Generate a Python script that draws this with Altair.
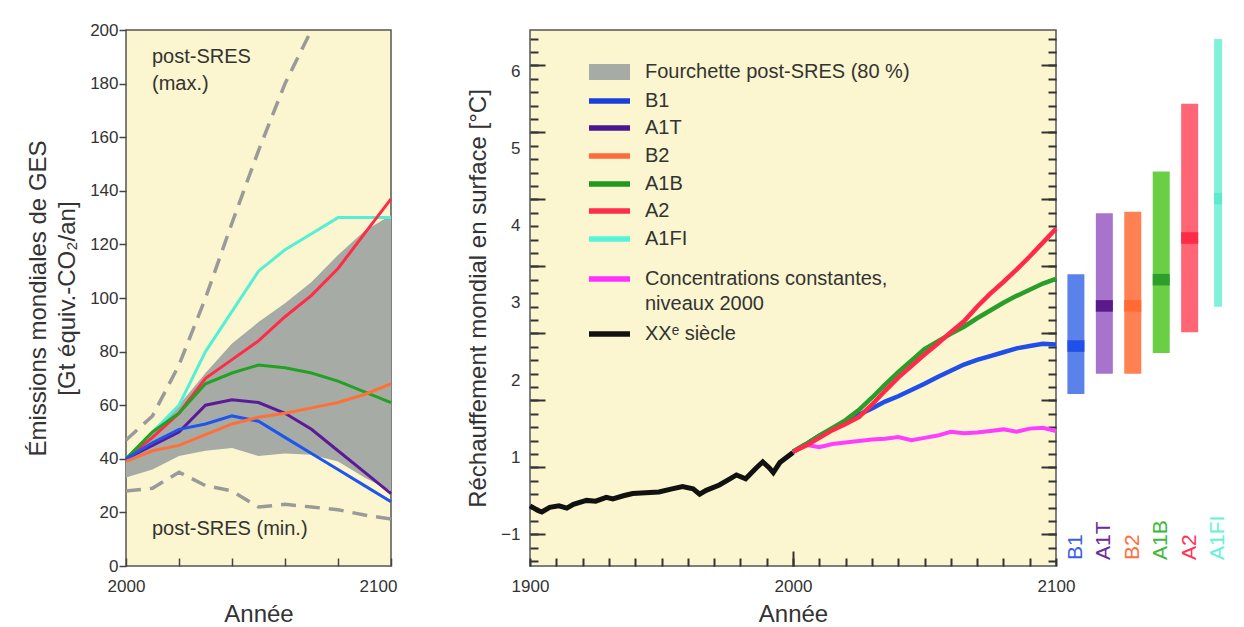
import altair as alt
import pandas as pd

FONT = "Liberation Sans"
TXT = "#333333"
BG = "#FBF6CF"

# ---------------- left panel: emissions (Gt CO2-eq / yr) ----------------
years_em = [2000, 2010, 2020, 2030, 2040, 2050, 2060, 2070, 2080, 2090, 2100]
band_low = [33, 36, 41, 43, 44, 41, 42, 41.5, 39, 33, 28]
band_high = [40, 50, 60, 72, 83, 91, 98, 106, 116, 125, 131]
sres_max = [47, 56, 75, 100, 128, 155, 180, 200, 222, 245, 268]
sres_min = [28, 29, 35, 30, 28, 22, 23, 22, 21, 19, 17.5]
em_series = {
    "A1FI": [40, 50, 60, 80, 95, 110, 118, 124, 130, 130, 130],
    "A2": [40, 48, 57, 70, 77, 84, 93, 101, 111, 124, 137],
    "A1B": [40, 50, 57, 68, 72, 75, 74, 72, 69, 65, 61],
    "A1T": [40, 45, 50, 60, 62, 61, 57, 51, 43, 35, 27],
    "B1": [40, 46, 51, 53, 56, 54, 48, 42, 36, 30, 24],
    "B2": [39, 43, 45, 49, 53, 55.5, 57, 59, 61, 64, 68],
}
em_colors = {"A1FI": "#55EFD6", "A2": "#FF2B47", "A1B": "#24A024",
             "A1T": "#5B1A9A", "B1": "#1E55EE", "B2": "#FF7038"}

# ---------------- right panel: warming ----------------
yr_hist = [1900, 1903, 1904.5, 1907.5, 1911, 1914, 1916.5, 1921.5, 1925, 1929,
           1931.5, 1935.5, 1939, 1944, 1949, 1954, 1958, 1962, 1964.5, 1967,
           1972, 1976, 1978.5, 1982, 1986, 1988.5, 1991, 1992.5, 1995, 2000]
t_hist = [0.37, 0.31, 0.29, 0.35, 0.37, 0.34, 0.39, 0.44, 0.43, 0.48,
          0.46, 0.50, 0.53, 0.54, 0.55, 0.59, 0.62, 0.59, 0.52, 0.57,
          0.64, 0.72, 0.77, 0.72, 0.86, 0.94, 0.86, 0.80, 0.93, 1.06]
yr_fut = [2000, 2005, 2010, 2015, 2020, 2025, 2030, 2035, 2040, 2045, 2050,
          2055, 2060, 2065, 2070, 2075, 2080, 2085, 2090, 2095, 2100]
t_A2 = [1.07, 1.15, 1.25, 1.35, 1.43, 1.52, 1.68, 1.86, 2.03, 2.18, 2.33,
        2.47, 2.62, 2.76, 2.95, 3.12, 3.27, 3.43, 3.60, 3.78, 3.96]
t_A1B = [1.07, 1.17, 1.28, 1.38, 1.48, 1.61, 1.77, 1.94, 2.10, 2.25, 2.40,
         2.50, 2.60, 2.69, 2.80, 2.90, 3.00, 3.09, 3.17, 3.25, 3.31]
t_B1 = [1.07, 1.17, 1.28, 1.37, 1.46, 1.55, 1.63, 1.72, 1.79, 1.87, 1.95,
        2.04, 2.12, 2.20, 2.26, 2.31, 2.36, 2.41, 2.44, 2.47, 2.46]
t_const = [1.07, 1.16, 1.13, 1.17, 1.19, 1.21, 1.23, 1.24, 1.26, 1.22, 1.25,
           1.28, 1.33, 1.31, 1.32, 1.34, 1.36, 1.33, 1.37, 1.38, 1.34]

legend_labels = ["B1", "A1T", "B2", "A1B", "A2", "A1FI",
                 "Concentrations constantes,", "niveaux 2000", "XXᵉ siècle"]
legend_colors = ["#1A3FD8", "#4B1590", "#FF6A3A", "#1E9A1E", "#FF2D4D", "#55F5D8",
                 "#FF30FF", None, "#111111"]
band_label = "Fourchette post-SRES (80 %)"

# ---------------- bars at 2100 ----------------
scen = ["B1", "A1T", "B2", "A1B", "A2", "A1FI"]
bar_low = [1.82, 2.08, 2.08, 2.35, 2.62, 2.95]
bar_high = [3.37, 4.16, 4.18, 4.70, 5.58, 6.42]
bar_med = [2.44, 2.96, 2.96, 3.30, 3.84, 4.35]
bar_light = ["#5A82EA", "#A873CC", "#FF8052", "#6ACF44", "#FF6575", "#80F2DA"]
bar_dark = ["#1F50E8", "#5A1A8A", "#FF6A35", "#2C9E2C", "#FF2A48", "#5FEAD0"]
bar_text = ["#3A5FE5", "#6A2AA0", "#FF6E40", "#3CB83C", "#FF3355", "#66F2D6"]

# ======================= LEFT CHART =======================
LW, LH = 265, 536
em_df = pd.DataFrame({"year": years_em, "low": band_low, "high": band_high,
                      "max": sres_max, "min": sres_min})
em_long = pd.DataFrame([
    {"scenario": s, "year": y, "value": v}
    for s, vals in em_series.items() for y, v in zip(years_em, vals)
])
em_long["order"] = em_long["scenario"].map({s: i for i, s in enumerate(em_series)})

xL = alt.X("year:Q", scale=alt.Scale(domain=[2000, 2100], nice=False, zero=False),
           axis=alt.Axis(orient="bottom", values=list(range(2000, 2101, 10)), format="d",
                         labelExpr="datum.value % 100 == 0 ? datum.label : ''",
                         labelFlush=False,
                         labelOffset={"condition": {"test": "datum.value == 2100", "value": -13},
                                      "value": 0},
                         offset=-8, tickSize=8, domain=False, grid=False,
                         labelPadding=12, tickColor="#444", tickWidth=1.5,
                         title="Année", titlePadding=8))
yscaleL = alt.Scale(domain=[0, 200], nice=False, zero=True)

band = alt.Chart(em_df).mark_area(color="#A6ACA5").encode(
    x=xL,
    y=alt.Y("low:Q", scale=yscaleL,
            axis=alt.Axis(values=list(range(0, 201, 20)), tickSize=7, labelPadding=1,
                          domain=False, grid=False, tickColor="#444", tickWidth=1.5,
                          title=["Émissions mondiales de GES", "[Gt équiv.-CO₂/an]"],
                          titlePadding=10, titleLineHeight=29)),
    y2="high:Q")
dmax = alt.Chart(em_df).mark_line(color="#9A9A9A", strokeDash=[15, 9], strokeWidth=3.5,
                                  clip=True).encode(x="year:Q", y=alt.Y("max:Q", scale=yscaleL))
dmin = alt.Chart(em_df).mark_line(color="#9A9A9A", strokeDash=[15, 9], strokeWidth=3.5,
                                  clip=True).encode(x="year:Q", y=alt.Y("min:Q", scale=yscaleL))
lines_em = alt.Chart(em_long).mark_line(strokeWidth=3).encode(
    x="year:Q", y=alt.Y("value:Q", scale=yscaleL),
    color=alt.Color("scenario:N", scale=alt.Scale(domain=list(em_series),
                                                  range=[em_colors[s] for s in em_series]),
                    legend=None),
    order="order:Q")
ann_max = alt.Chart().mark_text(align="left", baseline="alphabetic", font=FONT,
                                fontSize=20, color=TXT, lineHeight=27).encode(
    x=alt.value(26), y=alt.value(33), text=alt.value(["post-SRES", "(max.)"]))
ann_min = alt.Chart().mark_text(align="left", baseline="alphabetic", font=FONT,
                                fontSize=20, color=TXT).encode(
    x=alt.value(26), y=alt.value(505), text=alt.value("post-SRES (min.)"))

left = alt.layer(band, dmax, dmin, lines_em, ann_max, ann_min).properties(
    width=LW, height=LH,
    view=alt.ViewBackground(fill=BG, stroke="#555555", strokeWidth=1.5))

# ======================= RIGHT CHART =======================
RW, RH = 526, 536
YDOM = [-0.41, 6.535]
XDOM = [1900, 2100]
short_ticks = [round(k * 0.1736, 4) for k in range(-2, 38)]
long_ticks = [round(k * 0.868, 4) for k in range(0, 8)]


def xsc():
    return alt.Scale(domain=XDOM, nice=False, zero=False)


def ysc():
    return alt.Scale(domain=YDOM, nice=False, zero=False)


def tick_axis(orient, vals, size):
    return alt.Axis(orient=orient, values=vals, labels=False, domain=False, grid=False,
                    tickSize=size, offset=-size, tickColor="#333", tickWidth=2, title=None)


xR = alt.X("year:Q", scale=xsc(),
           axis=alt.Axis(orient="bottom", values=list(range(1900, 2101, 10)), format="d",
                         labelExpr="datum.value % 100 == 0 ? datum.label : ''",
                         labelFlush=False,
                         offset=-8, tickSize=8, domain=False, grid=False,
                         labelPadding=12, tickColor="#333", tickWidth=2,
                         title="Année", titlePadding=8))
xR_long = alt.X("year:Q", scale=xsc(), axis=tick_axis("bottom", [2000], 15))
xR_plain = alt.X("year:Q", scale=xsc(), axis=None)

hist_df = pd.DataFrame({"year": yr_hist, "t": t_hist})
fut_df = pd.DataFrame({"year": yr_fut, "A2": t_A2, "A1B": t_A1B, "B1": t_B1, "C": t_const})

l_hist = alt.Chart(hist_df).mark_line(color="#111111", strokeWidth=5).encode(
    x=xR,
    y=alt.Y("t:Q", scale=ysc(),
            axis=alt.Axis(orient="left", values=[0, 1, 2, 3, 4, 5, 6],
                          labelExpr="datum.value == 0 ? '−1' : datum.label",
                          ticks=False, domain=False, grid=False, labelPadding=10,
                          title="Réchauffement mondial en surface [°C]", titlePadding=10)))
l_const = alt.Chart(fut_df).mark_line(color="#FF3DFF", strokeWidth=4).encode(
    x=xR_long, y=alt.Y("C:Q", scale=ysc(), axis=tick_axis("right", long_ticks, 15)))
l_B1 = alt.Chart(fut_df).mark_line(color="#1F4FE8", strokeWidth=4.5).encode(
    x=xR_plain, y=alt.Y("B1:Q", scale=ysc(), axis=tick_axis("left", short_ticks, 8)))
l_A1B = alt.Chart(fut_df).mark_line(color="#2A9E2A", strokeWidth=4.5).encode(
    x=xR_plain, y=alt.Y("A1B:Q", scale=ysc(), axis=tick_axis("left", long_ticks, 15)))
l_A2 = alt.Chart(fut_df).mark_line(color="#FF2A4A", strokeWidth=4.5).encode(
    x=xR_plain, y=alt.Y("A2:Q", scale=ysc(), axis=tick_axis("right", short_ticks, 8)))

# legend (layout in pixels inside the panel)
leg_rows = [71, 98, 126, 154, 181, 209, 249, 274, 304]
leg_df = pd.DataFrame({"label": legend_labels,
                       "col": [c if c else "transparent" for c in legend_colors],
                       "py": leg_rows})
leg_box = alt.Chart().mark_rect(color="#A6ACA5").encode(
    x=alt.value(59), x2=alt.value(100), y=alt.value(34), y2=alt.value(50))
leg_box_t = alt.Chart().mark_text(align="left", baseline="middle", font=FONT, fontSize=20,
                                  color=TXT).encode(
    x=alt.value(115), y=alt.value(42), text=alt.value(band_label))
leg_lines = alt.Chart(leg_df).mark_rule(strokeWidth=5.5).encode(
    x=alt.value(59), x2=alt.value(100), y=alt.Y("py:Q", scale=None, axis=None),
    color=alt.Color("col:N", scale=None))
leg_text = alt.Chart(leg_df).mark_text(align="left", baseline="middle", font=FONT,
                                       fontSize=20, color=TXT).encode(
    x=alt.value(115), y=alt.Y("py:Q", scale=None, axis=None), text="label:N")

right = alt.layer(l_const, l_B1, l_A1B, l_A2, l_hist,
                  leg_box, leg_box_t, leg_lines, leg_text).resolve_scale(
    x="independent", y="independent").properties(
    width=RW, height=RH,
    view=alt.ViewBackground(fill=BG, stroke="#555555", strokeWidth=1.5))

# ======================= BARS =======================
bars_df = pd.DataFrame({"scen": scen, "low": bar_low, "high": bar_high, "med": bar_med})
xB = alt.X("scen:N", sort=scen, scale=alt.Scale(type="point", domain=scen, padding=0.7),
           axis=None)
bsize = alt.condition("datum.scen == 'A1FI'", alt.value(8), alt.value(17))
b_main = alt.Chart(bars_df).mark_bar().encode(
    x=xB, y=alt.Y("low:Q", scale=ysc(), axis=None), y2="high:Q",
    color=alt.Color("scen:N", scale=alt.Scale(domain=scen, range=bar_light), legend=None),
    size=bsize)
b_med = alt.Chart(bars_df).transform_calculate(
    m0="datum.med - 0.075", m1="datum.med + 0.075").mark_bar().encode(
    x=xB, y=alt.Y("m0:Q", scale=ysc(), axis=None), y2="m1:Q",
    color=alt.Color("scen:N", scale=alt.Scale(domain=scen, range=bar_dark), legend=None),
    size=bsize)
b_txt = alt.Chart(bars_df).mark_text(angle=270, align="left", baseline="middle",
                                     font=FONT, fontSize=21).encode(
    x=xB, y=alt.value(530), text="scen:N",
    color=alt.Color("scen:N", scale=alt.Scale(domain=scen, range=bar_text), legend=None))
bars = alt.layer(b_main, b_med, b_txt).resolve_scale(color="independent").properties(
    width=182, height=RH, view=alt.ViewBackground(strokeWidth=0))

chart = alt.hconcat(
    left,
    alt.hconcat(right, bars, spacing=0, bounds="flush"),
    spacing=139, bounds="flush",
).properties(
    padding={"left": 25, "top": 20, "right": 0, "bottom": 0},
    background="white",
).configure_axis(
    labelFont=FONT, titleFont=FONT, labelFontSize=17, titleFontSize=24,
    labelColor=TXT, titleColor=TXT, titleFontWeight="normal",
).configure_view(strokeWidth=0)

chart.save("out.html", embed_options={"renderer": "svg", "actions": False})
